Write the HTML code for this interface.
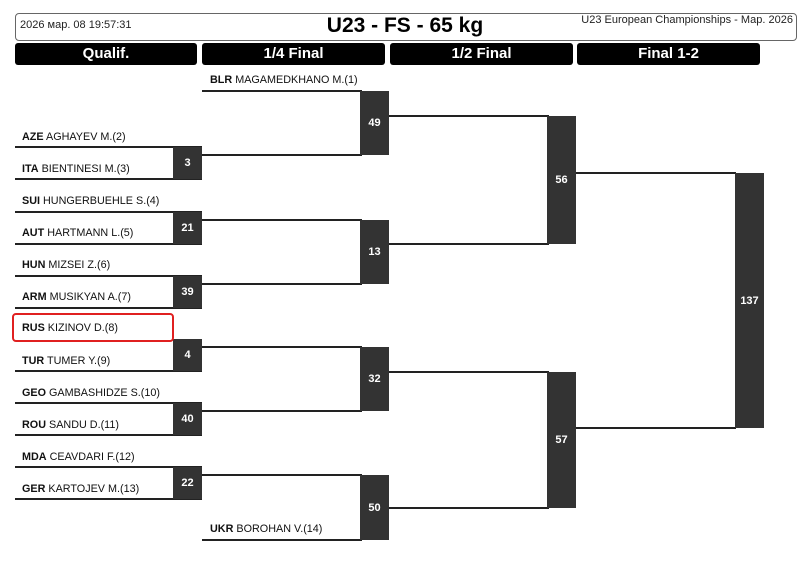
<!DOCTYPE html>
<html><head><meta charset="utf-8"><style>
body{margin:0;width:800px;height:562px;background:#fff;position:relative;overflow:hidden;font-family:"Liberation Sans",sans-serif;}
.a{position:absolute}
.h{position:absolute;top:43px;height:22px;background:#000;color:#fff;border-radius:3px;font-weight:bold;font-size:15px;line-height:22px;text-align:center}
.l{position:absolute;height:2px;background:#222}
.b{position:absolute;width:29px;background:#333;color:#fff;font-weight:bold;font-size:11px;display:flex;align-items:center;justify-content:center}
.t{position:absolute;font-size:10.8px;color:#111;white-space:nowrap;line-height:12px}
.t b{font-weight:bold}
</style></head><body>
<div class="a" style="left:15px;top:13px;width:780px;height:26px;border:1px solid #666;border-radius:4px"></div>
<div class="a" style="left:20px;top:19px;font-size:11px;color:#222">2026 мар. 08 19:57:31</div>
<div class="a" style="left:280px;top:13px;width:250px;text-align:center;font-size:21px;font-weight:bold;line-height:26px">U23 - FS - 65 kg</div>
<div class="a" style="right:7px;top:14px;font-size:11px;color:#222">U23 European Championships - Мар. 2026</div>
<div class="h" style="left:15px;width:182px">Qualif.</div>
<div class="h" style="left:202px;width:183px">1/4 Final</div>
<div class="h" style="left:390px;width:183px">1/2 Final</div>
<div class="h" style="left:577px;width:183px">Final 1-2</div>

<div class="l" style="left:15px;width:187px;top:146px"></div>
<div class="l" style="left:15px;width:187px;top:178px"></div>
<div class="l" style="left:15px;width:187px;top:211px"></div>
<div class="l" style="left:15px;width:187px;top:243px"></div>
<div class="l" style="left:15px;width:187px;top:275px"></div>
<div class="l" style="left:15px;width:187px;top:307px"></div>
<div class="l" style="left:15px;width:187px;top:370px"></div>
<div class="l" style="left:15px;width:187px;top:402px"></div>
<div class="l" style="left:15px;width:187px;top:434px"></div>
<div class="l" style="left:15px;width:187px;top:466px"></div>
<div class="l" style="left:15px;width:187px;top:498px"></div>
<div class="b" style="left:173px;top:147px;height:32px">3</div>
<div class="b" style="left:173px;top:212px;height:32px">21</div>
<div class="b" style="left:173px;top:276px;height:32px">39</div>
<div class="b" style="left:173px;top:339px;height:32px">4</div>
<div class="b" style="left:173px;top:403px;height:32px">40</div>
<div class="b" style="left:173px;top:467px;height:32px">22</div>

<div class="l" style="left:202px;width:160px;top:90px"></div>
<div class="l" style="left:202px;width:160px;top:154px"></div>
<div class="l" style="left:202px;width:160px;top:219px"></div>
<div class="l" style="left:202px;width:160px;top:283px"></div>
<div class="l" style="left:202px;width:160px;top:346px"></div>
<div class="l" style="left:202px;width:160px;top:410px"></div>
<div class="l" style="left:202px;width:160px;top:474px"></div>
<div class="l" style="left:202px;width:160px;top:539px"></div>
<div class="b" style="left:360px;top:91px;height:64px">49</div>
<div class="b" style="left:360px;top:220px;height:64px">13</div>
<div class="b" style="left:360px;top:347px;height:64px">32</div>
<div class="b" style="left:360px;top:475px;height:65px">50</div>

<div class="l" style="left:389px;width:160px;top:115px"></div>
<div class="l" style="left:389px;width:160px;top:243px"></div>
<div class="l" style="left:389px;width:160px;top:371px"></div>
<div class="l" style="left:389px;width:160px;top:507px"></div>
<div class="b" style="left:547px;top:116px;height:128px">56</div>
<div class="b" style="left:547px;top:372px;height:136px">57</div>

<div class="l" style="left:576px;width:160px;top:172px"></div>
<div class="l" style="left:576px;width:160px;top:427px"></div>
<div class="b" style="left:735px;top:173px;height:255px">137</div>

<div class="t" style="left:210px;top:74px"><b>BLR</b> MAGAMEDKHANO M.(1)</div>
<div class="t" style="left:22px;top:131px"><b>AZE</b> AGHAYEV M.(2)</div>
<div class="t" style="left:22px;top:163px"><b>ITA</b> BIENTINESI M.(3)</div>
<div class="t" style="left:22px;top:195px"><b>SUI</b> HUNGERBUEHLE S.(4)</div>
<div class="t" style="left:22px;top:227px"><b>AUT</b> HARTMANN L.(5)</div>
<div class="t" style="left:22px;top:259px"><b>HUN</b> MIZSEI Z.(6)</div>
<div class="t" style="left:22px;top:291px"><b>ARM</b> MUSIKYAN A.(7)</div>
<div class="a" style="left:12px;top:313px;width:158px;height:25px;border:2px solid #e02020;border-radius:4px"></div>
<div class="t" style="left:22px;top:322px"><b>RUS</b> KIZINOV D.(8)</div>
<div class="t" style="left:22px;top:355px"><b>TUR</b> TUMER Y.(9)</div>
<div class="t" style="left:22px;top:387px"><b>GEO</b> GAMBASHIDZE S.(10)</div>
<div class="t" style="left:22px;top:419px"><b>ROU</b> SANDU D.(11)</div>
<div class="t" style="left:22px;top:451px"><b>MDA</b> CEAVDARI F.(12)</div>
<div class="t" style="left:22px;top:483px"><b>GER</b> KARTOJEV M.(13)</div>
<div class="t" style="left:210px;top:523px"><b>UKR</b> BOROHAN V.(14)</div>
</body></html>
